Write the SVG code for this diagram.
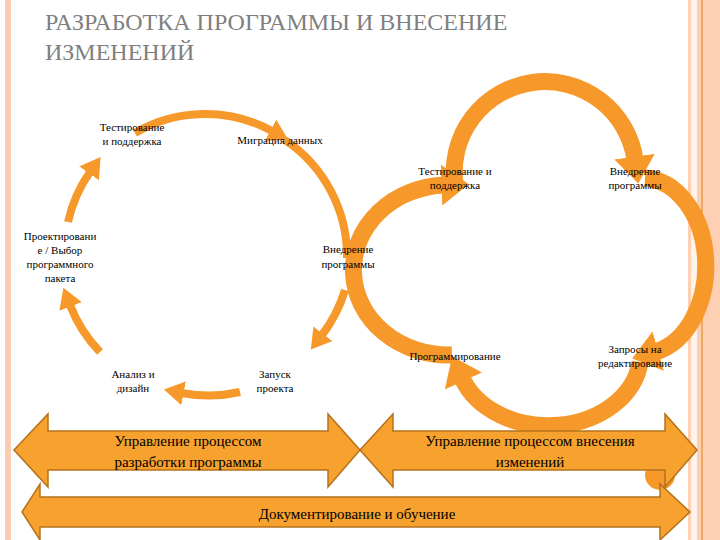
<svg xmlns="http://www.w3.org/2000/svg" width="720" height="540" viewBox="0 0 720 540">
<style>
text{font-family:"Liberation Serif","DejaVu Serif","Times New Roman",serif}
.t{font-size:11px;fill:#000;text-anchor:middle}
.big{font-size:15px;fill:#000;text-anchor:middle}
.ttl{font-size:24px;fill:#7F7F7F}
.thin{fill:none;stroke:#F7982A;stroke-width:8}
.thick{fill:none;stroke:#F7982A;stroke-width:17}
.band{fill:#F7A12E;stroke:#B5711C;stroke-width:1.5}
</style>
<defs>
<marker id="ah" markerUnits="strokeWidth" markerWidth="3" markerHeight="3" refX="0.2" refY="1.5" orient="auto"><path d="M0,0 L2.5,1.5 L0,3 Z" fill="#F7982A"/></marker>
<marker id="ahb" markerUnits="strokeWidth" markerWidth="2.4" markerHeight="2.4" refX="0.2" refY="1.2" orient="auto"><path d="M0,0 L1.6,1.2 L0,2.4 Z" fill="#F7982A"/></marker>
</defs>
<rect width="720" height="540" fill="#fff"/>
<g id="border">
<rect x="5" y="0" width="6" height="540" fill="#FBCDB0"/>
<rect x="688" y="0" width="32" height="540" fill="#FDCFB3"/>
<rect x="691" y="0" width="6" height="540" fill="#FFF3EA"/>
<rect x="701" y="0" width="2" height="540" fill="#EDAA60"/>
</g>
<text class="ttl" x="45" y="30">РАЗРАБОТКА ПРОГРАММЫ И ВНЕСЕНИЕ</text>
<text class="ttl" x="45" y="60">ИЗМЕНЕНИЙ</text>
<g id="connectors">
<path class="thin" marker-end="url(#ah)" d="M135,133 A140,140 0 0 1 272,131"/>
<path class="thin" d="M285,140 A140,140 0 0 1 347,258"/>
<path class="thin" marker-end="url(#ah)" d="M345,290 A140,140 0 0 1 322,335"/>
<path class="thin" marker-end="url(#ah)" d="M240,392 A140,140 0 0 1 182,393"/>
<path class="thin" marker-end="url(#ah)" d="M100,352 A140,140 0 0 1 70,305"/>
<path class="thin" marker-end="url(#ah)" d="M68,222 A140,140 0 0 1 90,172"/>
<path class="thick" marker-end="url(#ahb)" d="M455,185 A90,90 0 1 1 635,160"/>
<path class="thick" marker-end="url(#ahb)" d="M645,178 A64,88 0 0 1 655,352"/>
<path class="thick" marker-end="url(#ahb)" d="M640,362 A92,72 0 0 1 462,378"/>
<path class="thick" marker-end="url(#ahb)" d="M452,355 A95,85 0 0 1 445,185"/>
<circle cx="660" cy="475" r="15" fill="#F7982A"/>
</g>
<g id="n1"><text class="t" x="132" y="131">Тестирование</text><text class="t" x="132" y="145">и поддержка</text></g>
<g id="n2"><text class="t" x="280" y="144">Миграция данных</text></g>
<g id="n3"><text class="t" x="348" y="253">Внедрение</text><text class="t" x="348" y="268">программы</text></g>
<g id="n4"><text class="t" x="60" y="240">Проектировани</text><text class="t" x="60" y="254">е / Выбор</text><text class="t" x="60" y="268">программного</text><text class="t" x="60" y="282">пакета</text></g>
<g id="n5"><text class="t" x="133" y="378">Анализ и</text><text class="t" x="133" y="392">дизайн</text></g>
<g id="n6"><text class="t" x="275" y="378">Запуск</text><text class="t" x="275" y="392">проекта</text></g>
<g id="n7"><text class="t" x="455" y="175">Тестирование и</text><text class="t" x="455" y="189">поддержка</text></g>
<g id="n8"><text class="t" x="635" y="175">Внедрение</text><text class="t" x="635" y="189">программы</text></g>
<g id="n9"><text class="t" x="455" y="360">Программирование</text></g>
<g id="n10"><text class="t" x="635" y="353">Запросы на</text><text class="t" x="635" y="367">редактирование</text></g>
<g id="b1"><polygon class="band" points="14,450 48,414 48,431 328,431 328,414 360,450 328,487 328,470 48,470 48,487"/>
<text class="big" x="188" y="446">Управление процессом</text><text class="big" x="188" y="467">разработки программы</text></g>
<g id="b2"><polygon class="band" points="360,450 393,414 393,431 665,431 665,414 697,450 665,487 665,470 393,470 393,487"/>
<text class="big" x="530" y="446">Управление процессом внесения</text><text class="big" x="530" y="467">изменений</text></g>
<g id="b3"><polygon class="band" points="22,512 40,484 40,497 660,497 660,484 690,512 660,540 660,527 40,527 40,540"/>
<text class="big" x="357" y="519">Документирование и обучение</text></g>
</svg>
